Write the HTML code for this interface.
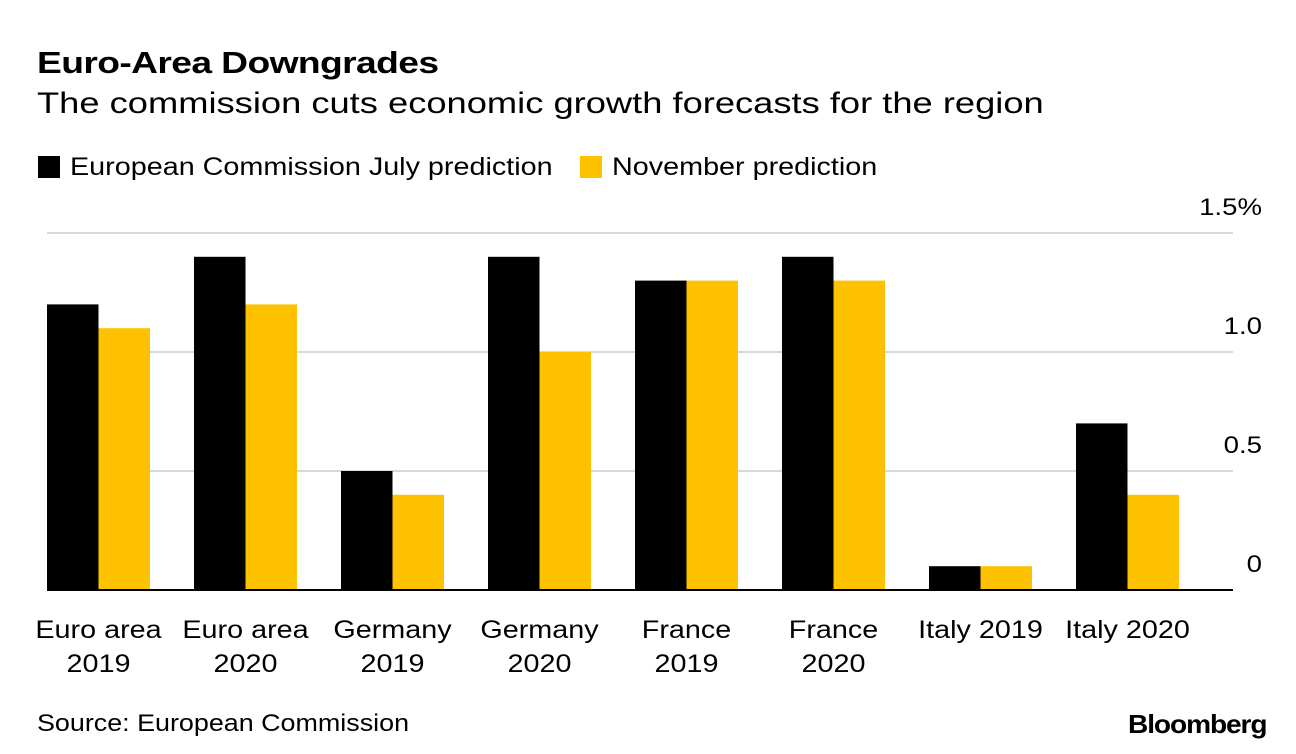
<!DOCTYPE html>
<html><head><meta charset="utf-8"><style>
body{margin:0;background:#fff;font-family:"Liberation Sans",sans-serif;}
#wrap{position:relative;width:1296px;height:754px;overflow:hidden;}
.t{position:absolute;white-space:nowrap;color:#000;transform-origin:0 0;}
</style></head><body>
<div id="wrap">
<div class="t" style="left:37px;top:45px;font-size:31px;font-weight:bold;letter-spacing:-0.5px;transform:scaleX(1.2)">Euro-Area Downgrades</div>
<div class="t" style="left:37px;top:87px;font-size:30px;transform:scaleX(1.21)">The commission cuts economic growth forecasts for the region</div>
<div class="t" style="left:38px;top:153px;font-size:25px"><span style="display:inline-block;width:22px;height:22px;background:#000;vertical-align:-3px;margin-right:10px"></span><span style="display:inline-block;transform:scaleX(1.15);transform-origin:0 0">European Commission July prediction</span></div>
<div class="t" style="left:580px;top:153px;font-size:25px"><span style="display:inline-block;width:22px;height:22px;background:#FFC200;vertical-align:-3px;margin-right:10px"></span><span style="display:inline-block;transform:scaleX(1.15);transform-origin:0 0">November prediction</span></div>
<svg id="chart" width="1296" height="754" style="position:absolute;left:0;top:0"></svg>
<div class="t" style="left:37px;top:710px;font-size:24px;transform:scaleX(1.12)">Source: European Commission</div>
<div class="t" style="left:1128px;top:709px;font-size:26px;font-weight:bold;letter-spacing:-1px;transform:scaleX(1.08)">Bloomberg</div>
</div>
<script>
const categories=[["Euro area","2019"],["Euro area","2020"],["Germany","2019"],["Germany","2020"],["France","2019"],["France","2020"],["Italy 2019",""],["Italy 2020",""]];
const julyValues=[1.2,1.4,0.5,1.4,1.3,1.4,0.1,0.7];
const novemberValues=[1.1,1.2,0.4,1.0,1.3,1.3,0.1,0.4];
const tickValues=[0,0.5,1.0,1.5];
const tickLabels=["0","0.5","1.0","1.5%"];
const NS="http://www.w3.org/2000/svg";
const svg=document.getElementById('chart');
const y0=590,pxPer=238,left=47,step=147,bw=51.5,right=1233;
const y=v=>y0-v*pxPer;
const x=i=>left+i*step;
function mk(t,a){const e=document.createElementNS(NS,t);for(const k in a)e.setAttribute(k,a[k]);svg.appendChild(e);return e;}
tickValues.forEach((v,i)=>{
 if(v>0){const g=mk('line',{x1:left,x2:right,y1:y(v),y2:y(v),stroke:'#d9d9d9','stroke-width':2});
 
 }
 const t=mk('text',{x:0,y:0,transform:`translate(1262,${y(v)-18}) scale(1.15,1)`,'text-anchor':'end','font-size':24,'font-family':'Liberation Sans'});
 t.textContent=tickLabels[i];
 
 
});
categories.forEach((c,i)=>{
 const b1=mk('rect',{x:x(i),y:y(julyValues[i]),width:bw,height:y0-y(julyValues[i]),fill:'#000'});
 
 
 const b2=mk('rect',{x:x(i)+bw,y:y(novemberValues[i]),width:bw,height:y0-y(novemberValues[i]),fill:'#FFC200'});
 
 
 c.forEach((line,j)=>{
  const t=mk('text',{x:0,y:0,transform:`translate(${x(i)+bw},${638+j*34}) scale(1.15,1)`,'text-anchor':'middle','font-size':25,'font-family':'Liberation Sans'});
  t.textContent=line;
  
  
 });
});
const base=mk('line',{x1:left,x2:right,y1:y0,y2:y0,stroke:'#000','stroke-width':2});


</script>
</body></html>
